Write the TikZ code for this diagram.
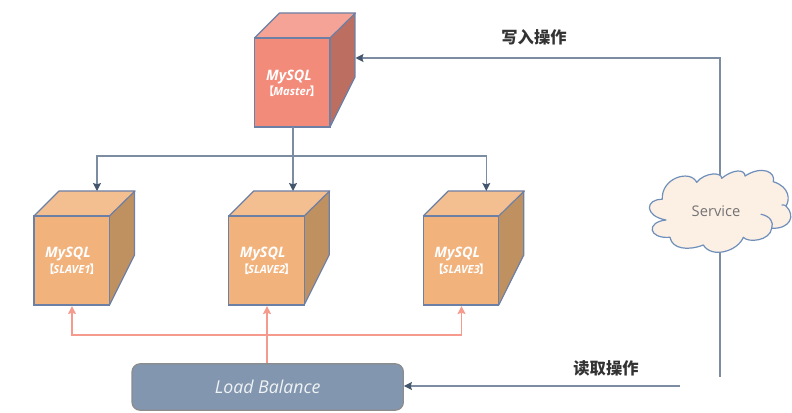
\documentclass[tikz,border=0pt]{standalone}
\usepackage{fontspec}
\setmainfont{Open Sans}
\newfontfamily\cjk{Noto Sans CJK SC}
\usetikzlibrary{arrows.meta,calc}
\definecolor{edgeblue}{HTML}{6C7FA5}
\definecolor{darkline}{HTML}{7D8DA1}
\definecolor{darkhead}{HTML}{43566E}
\definecolor{redline}{HTML}{F59A8C}
\definecolor{mfront}{HTML}{F38B7A}
\definecolor{mtop}{HTML}{F4A396}
\definecolor{mside}{HTML}{BC6E60}
\definecolor{sfront}{HTML}{F2B27C}
\definecolor{stop}{HTML}{F3BF90}
\definecolor{sside}{HTML}{C09160}
\definecolor{lbfill}{HTML}{8296AF}
\definecolor{cloudfill}{HTML}{FCEFE4}
\definecolor{cloudline}{HTML}{6F8FBB}
\newcommand{\lbr}{{\cjk\bfseries 【}\hspace{-.1em}}
\newcommand{\rbr}{\hspace{-.1em}{\cjk\bfseries 】}}
\tikzset{
  x=.75pt,y=-.75pt,
  front/.style={draw=edgeblue,line width=.9pt,minimum width=56.6pt,minimum height=66.8pt,inner sep=0pt,outer sep=0pt,anchor=north west},
  face/.style={draw=edgeblue,line width=.9pt,line join=round},
  dbname/.style={text=white,font=\fontsize{10.8}{12}\selectfont\itshape\bfseries},
  dbsub/.style={text=white,inner sep=0pt,font=\fontsize{8.4}{9}\selectfont\itshape\bfseries},
  readline/.style={darkline,line width=.9pt},
  readarrow/.style={darkline,line width=.9pt,-{Stealth[length=6pt,width=6pt,inset=1pt,color=darkhead]}},
  redarrow/.style={redline,line width=.9pt,-{Stealth[length=6pt,width=6pt,inset=1pt,color=redline]}},
  heading/.style={font=\cjk\bfseries\fontsize{12.2}{14}\selectfont,text=black!80},
}
\newcommand{\cube}[6]{% name, x, y, front, top, side
  \node[front,fill=#4] (#1) at (#2,#3) {};
  \fill[#5] (#1.north west) -- ++(25,-25) -- ++(76,0) -- (#1.north east) -- cycle;
  \fill[#6] (#1.north east) -- ++(25,-25) -- ++(0,64) -- (#1.south east) -- cycle;
  \draw[face] (#1.north west) -- ++(25,-25) -- ++(76,0) -- (#1.north east);
  \draw[face] ($(#1.north east)+(25,-25)$) -- ++(0,64) -- (#1.south east);
  \draw[face] (#1.north west) rectangle (#1.south east);
  \coordinate (#1top) at ($(#1.north west)+(63,-25)$);
}
\begin{document}
\begin{tikzpicture}
\useasboundingbox (0,0) rectangle (792,413);
% cubes
\cube{master}{254.5}{38}{mfront}{mtop}{mside}
\cube{slaveA}{34}{216}{sfront}{stop}{sside}
\cube{slaveB}{228.7}{216}{sfront}{stop}{sside}
\cube{slaveC}{423.3}{216}{sfront}{stop}{sside}
\node[dbname] at (289,77) {MySQL};
\node[dbsub] at (292,91) {\lbr Master\rbr};
\node[dbname] at (68,254) {MySQL};
\node[dbsub] at (72,269) {\lbr SLAVE1\rbr};
\node[dbname] at (262.7,254) {MySQL};
\node[dbsub] at (266.7,269) {\lbr SLAVE2\rbr};
\node[dbname] at (457.3,254) {MySQL};
\node[dbsub] at (461.3,269) {\lbr SLAVE3\rbr};
% load balance
\node[draw=black!45,line width=.9pt,fill=lbfill,rounded corners=6pt,minimum width=203.5pt,minimum height=34.8pt,inner sep=0pt,
  text=white!88!lbfill,font=\fontsize{13.3}{14}\selectfont\itshape] (lb) at (267.7,387) {Load Balance};
% named ends
\coordinate (mport) at (355.5,58);
\coordinate (svc) at (720,211);
\coordinate (svcend) at (720,377);
\coordinate (lbend) at (680,386);
\coordinate (hub) at (293,156);
\coordinate (redhub) at (267,335);
% master to slaves
\draw[readline] (hub) -- (master.south -| hub);
\draw[readarrow] (hub) -| (slaveAtop);
\draw[readarrow] (hub) -- (hub |- slaveBtop);
\draw[readarrow] (hub) -| (slaveCtop);
% load balance to slaves
\draw[redline,line width=.9pt] (lb.north -| redhub) -- (redhub);
\draw[redarrow] (redhub) -| ($(slaveA.south west)+(38,1)$);
\draw[redarrow] (redhub) -- ($(redhub |- slaveB.south)+(0,1)$);
\draw[redarrow] (redhub) -| ($(slaveC.south west)+(38.2,1)$);
% service
\draw[readarrow] (svc) |- (mport);
\draw[readline] (svc) -- (svcend);
\draw[readarrow] (lbend) -- (lb.east |- lbend);
% cloud
\filldraw[fill=cloudfill,draw=cloudline,line width=.9pt,line join=round]
 (662.3,199.3) .. controls (661,178) and (690,169) .. (696.7,182.3)
 .. controls (705,172) and (722,172) .. (721.7,178.3)
 .. controls (733,169) and (745,169) .. (745,176)
 .. controls (762,165) and (776,172) .. (773.3,181.7)
 .. controls (790,187) and (790,200) .. (786,206)
 .. controls (796,216) and (790,229) .. (771.7,228.3)
 .. controls (770,241) and (748,243) .. (743.3,237.3)
 .. controls (738,251) and (712,259) .. (703.3,245)
 .. controls (688,251) and (672,249) .. (670,237.3)
 .. controls (648,239) and (646,222) .. (666,220)
 .. controls (644,216) and (645,199) .. (662.3,199.3) -- cycle;
\draw[cloudline,line width=.9pt,line cap=round] (761,214.3) .. controls (770,216) and (774,222) .. (771.7,228.3);
\draw[cloudline,line width=.9pt,line cap=round] (786,206) .. controls (785,205) and (784,205) .. (782,205);
\node[text=black!55,font=\fontsize{11}{12}\selectfont] (service) at (716,211) {Service};
% labels
\node[heading] (write) at (534,37) {写入操作};
\node[heading] (read) at (606,368) {读取操作};
\end{tikzpicture}
\end{document}
